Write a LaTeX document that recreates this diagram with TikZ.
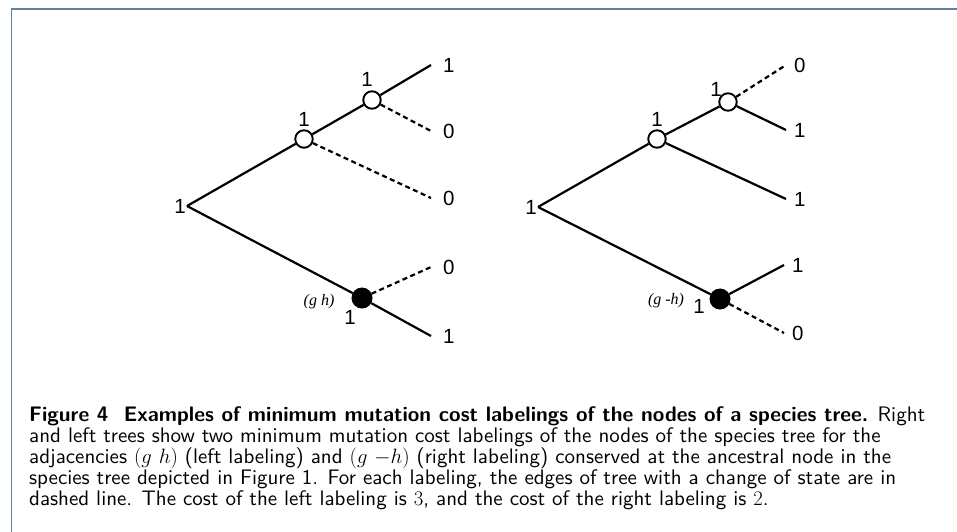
\documentclass[tikz,border=0pt]{standalone}
\usepackage{fontspec}
\newfontfamily\arialfont{Liberation Sans}
\newfontfamily\timesfont{Liberation Serif}
\newfontfamily\capfont{lmsans10-regular}[Extension=.otf, BoldFont=lmsans10-bold]
\usepackage{xcolor}
\definecolor{framegray}{HTML}{6482A0}
\usepackage{tikz}
\usetikzlibrary{positioning}

\begin{document}
\begin{tikzpicture}[
  x=1pt, y=-1pt,
  edge/.style={line width=2.2pt},
  change/.style={edge, dash pattern=on 5pt off 3.5pt},
  opennode/.style={circle, draw, line width=1.9pt, fill=white, inner sep=0pt, minimum size=17.5pt},
  fullnode/.style={circle, draw, line width=1pt, fill=black, inner sep=0pt, minimum size=20pt},
  lab/.style={font=\arialfont\fontsize{20.5}{20.5}\selectfont, inner sep=0pt},
  adj/.style={font=\timesfont\itshape\fontsize{16}{16}\selectfont, inner sep=0pt},
  capline/.style={anchor=base west, inner sep=0pt, font=\capfont\fontsize{21}{21}\selectfont}
]
\useasboundingbox (0,0) rectangle (957,531);
\draw[framegray, line width=1.4pt] (11.5,540) |- (970,9);

% left tree: (g h)
\coordinate (lr) at (187,206);
\node[opennode] (la) at (304,139) {};
\node[opennode] (lb) at (372,100) {};
\node[fullnode] (lc) at (362,298) {};
\coordinate (l1) at (431,65);
\coordinate (l2) at (431,131);
\coordinate (l3) at (431,198);
\coordinate (l4) at (431,267);
\coordinate (l5) at (431,336);
\node[lab, left=1pt of lr] {1};
\node[lab, above=3pt of la] {1};
\node[lab] at (367,79) {1};
\node[lab] at (350,317) {1};
\node[adj] at (319,302) {(g h)};
\node[lab, right=12pt of l1] {1};
\node[lab, right=12pt of l2] {0};
\node[lab, right=12pt of l3] {0};
\node[lab, right=12pt of l4] {0};
\node[lab, right=12pt of l5] {1};
\draw[edge] (lr) -- (la);
\draw[edge] (la) -- (lb);
\draw[edge] (lr) -- (lc);
\draw[edge] (lb) -- (l1);
\draw[change] (lb) -- (l2);
\draw[change] (la) -- (l3);
\draw[change] (lc) -- (l4);
\draw[edge] (lc) -- (l5);

% right tree: (g -h)
\coordinate (rr) at (538,207);
\node[opennode] (ra) at (657,139) {};
\node[opennode] (rb) at (728,102) {};
\node[fullnode] (rc) at (720,299) {};
\coordinate (r1) at (786,65);
\coordinate (r2) at (786,130);
\coordinate (r3) at (786,199);
\coordinate (r4) at (784,265);
\coordinate (r5) at (784,333);
\node[lab, left=1pt of rr] {1};
\node[lab, above=3pt of ra] {1};
\node[lab] at (716,89) {1};
\node[lab] at (699,306) {1};
\node[adj] at (666,301) {(g -h)};
\node[lab, right=8pt of r1] {0};
\node[lab, right=8pt of r2] {1};
\node[lab, right=8pt of r3] {1};
\node[lab, right=8pt of r4] {1};
\node[lab, right=8pt of r5] {0};
\draw[edge] (rr) -- (ra);
\draw[edge] (ra) -- (rb);
\draw[edge] (rr) -- (rc);
\draw[change] (rb) -- (r1);
\draw[edge] (rb) -- (r2);
\draw[edge] (ra) -- (r3);
\draw[edge] (rc) -- (r4);
\draw[change] (rc) -- (r5);

% caption
\node[capline] (cap1) at (29,421) {\textbf{Figure 4\ \ Examples of minimum mutation cost labelings of the nodes of a species tree.} Right};
\node[capline] (cap2) at (29,442) {and left trees show two minimum mutation cost labelings of the nodes of the species tree for the};
\node[capline] (cap3) at (29,463) {adjacencies $(g\ h)$ (left labeling) and $(g\ {-h})$ (right labeling) conserved at the ancestral node in the};
\node[capline] (cap4) at (29,484) {species tree depicted in Figure 1. For each labeling, the edges of tree with a change of state are in};
\node[capline] (cap5) at (29,505) {dashed line. The cost of the left labeling is $3$, and the cost of the right labeling is $2$.};
\end{tikzpicture}
\end{document}
